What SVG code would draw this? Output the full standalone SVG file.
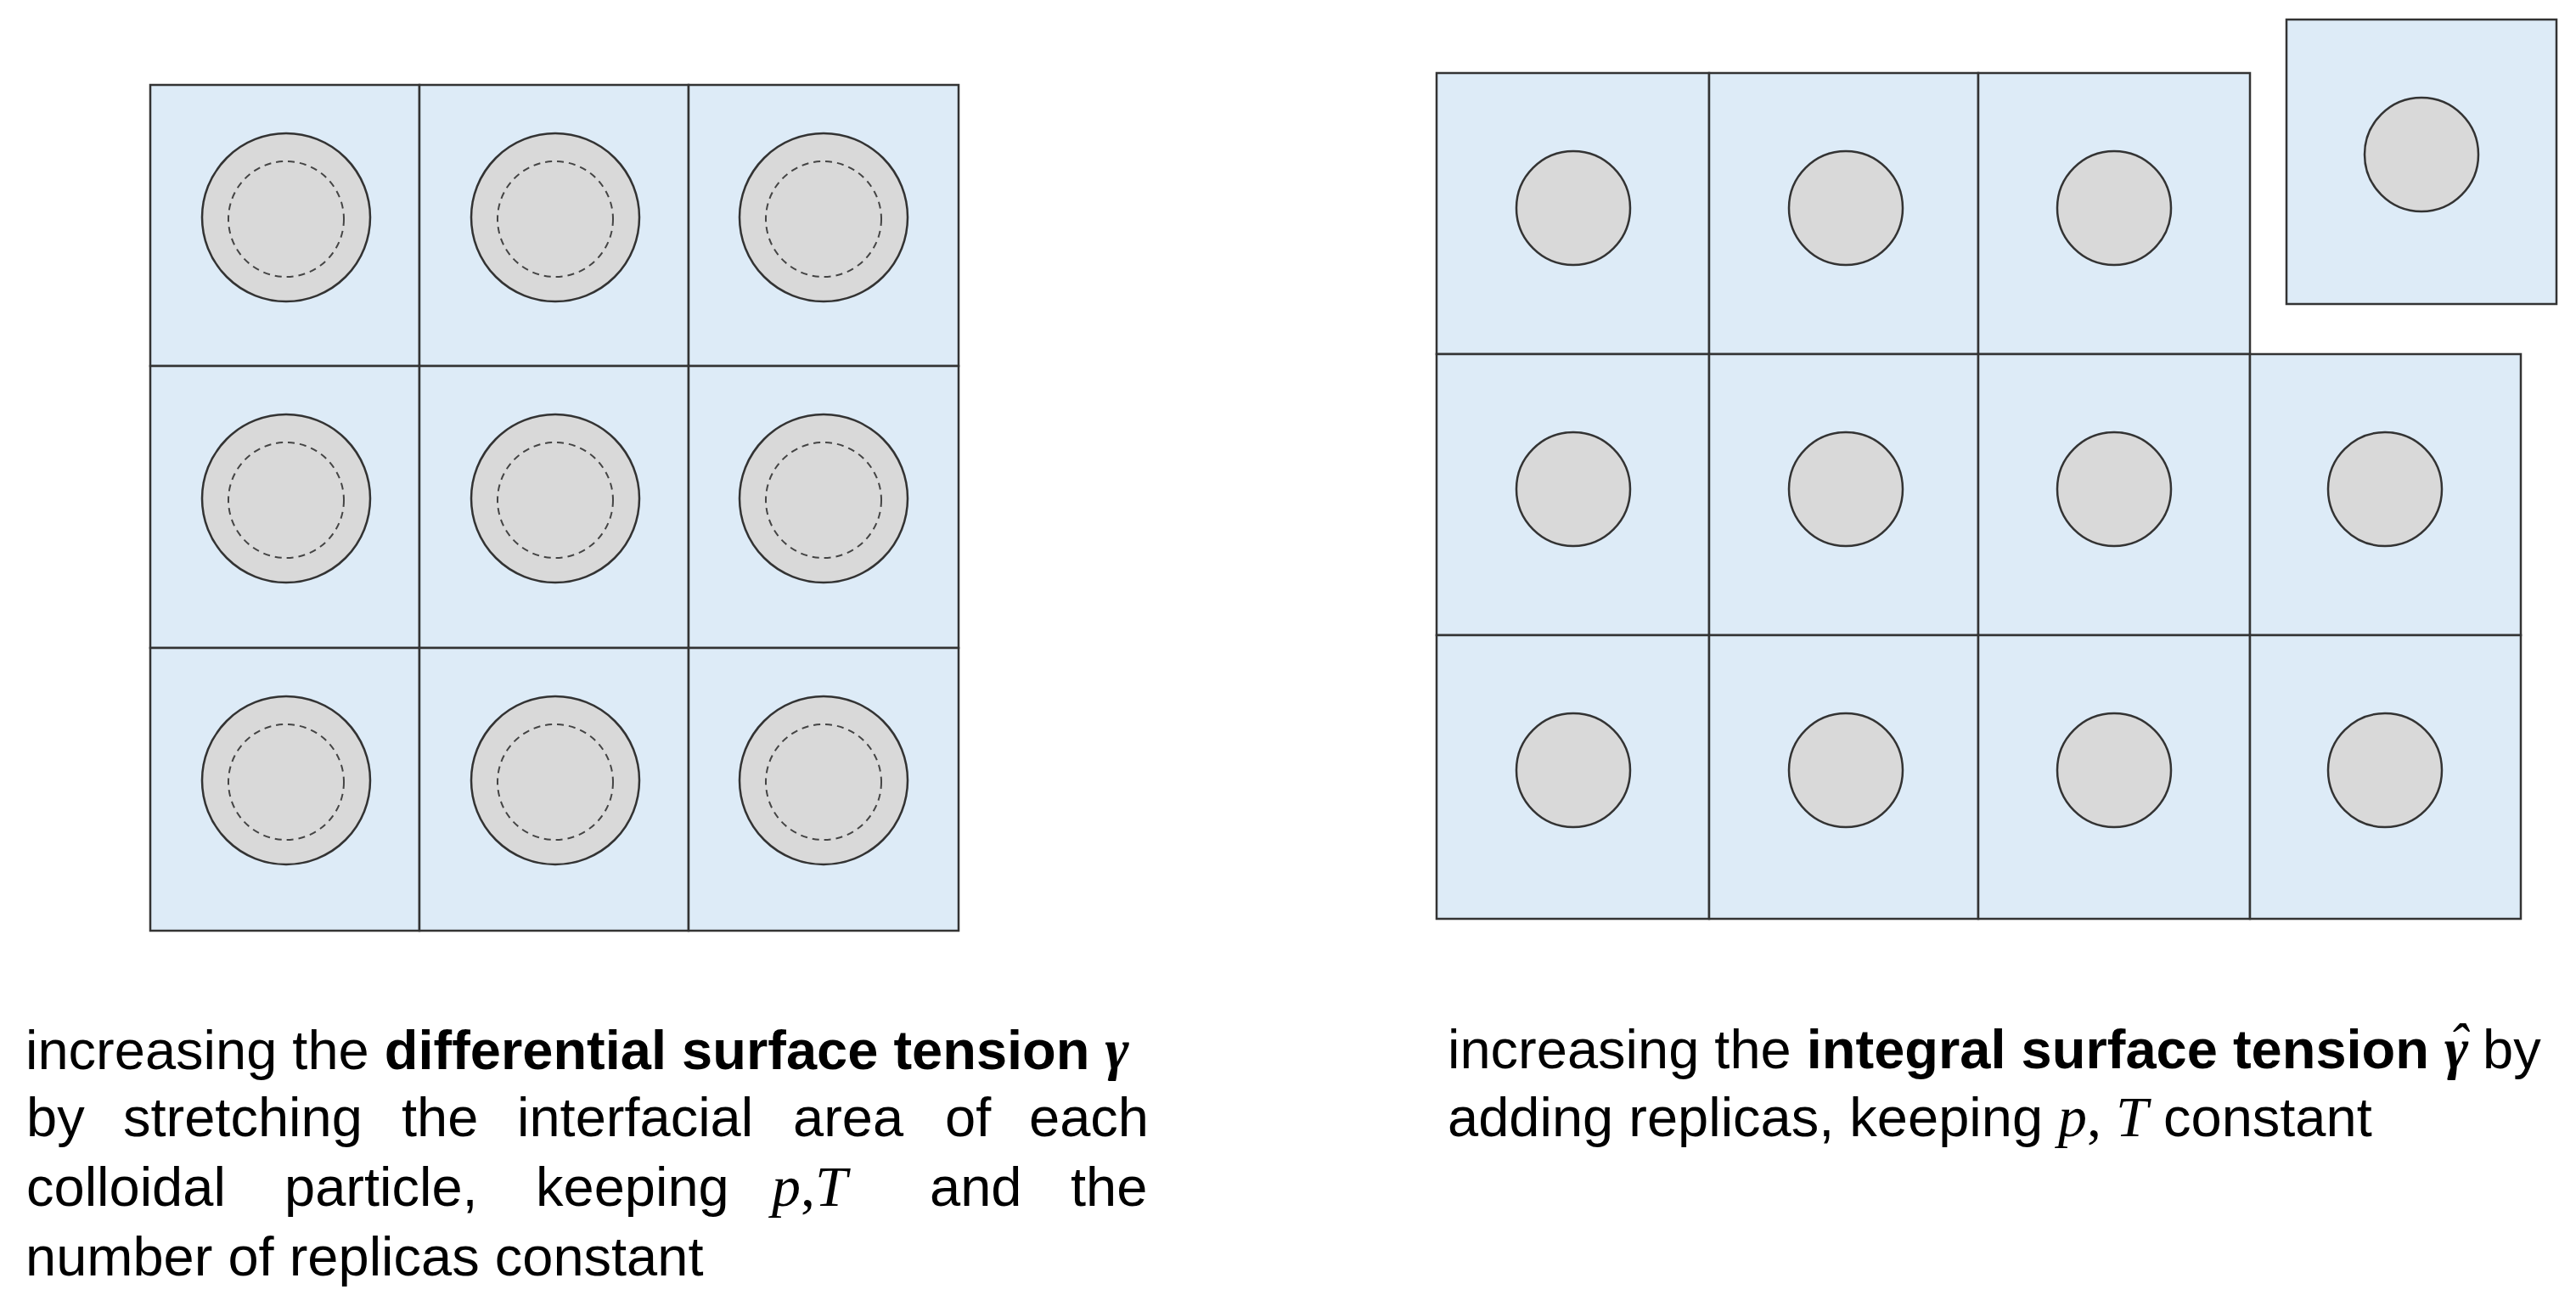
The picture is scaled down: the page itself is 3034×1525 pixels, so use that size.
<svg xmlns="http://www.w3.org/2000/svg" width="3034" height="1525" viewBox="0 0 3034 1525">
<style>
.cell{fill:#DDEBF7;stroke:#333333;stroke-width:2.5}
.p{fill:#D9D9D9;stroke:#333333;stroke-width:2.5}
.d{fill:none;stroke:#444444;stroke-width:2;stroke-dasharray:8 6}
.t{font-family:"Liberation Sans",Arial,sans-serif;font-size:65px;fill:#000}
.b{font-weight:bold}
.m{font-family:"Liberation Serif","Times New Roman",serif;font-style:italic;font-size:68px}
</style>
<rect width="3034" height="1525" fill="#ffffff"/>
<g id="left-grid">
<g id="L11"><rect class="cell" x="177" y="100" width="317" height="331"/><circle class="p" cx="337" cy="256" r="99"/><circle class="d" cx="337" cy="258" r="68"/></g>
<g id="L12"><rect class="cell" x="494" y="100" width="317" height="331"/><circle class="p" cx="654" cy="256" r="99"/><circle class="d" cx="654" cy="258" r="68"/></g>
<g id="L13"><rect class="cell" x="811" y="100" width="318" height="331"/><circle class="p" cx="970" cy="256" r="99"/><circle class="d" cx="970" cy="258" r="68"/></g>
<g id="L21"><rect class="cell" x="177" y="431" width="317" height="332"/><circle class="p" cx="337" cy="587" r="99"/><circle class="d" cx="337" cy="589" r="68"/></g>
<g id="L22"><rect class="cell" x="494" y="431" width="317" height="332"/><circle class="p" cx="654" cy="587" r="99"/><circle class="d" cx="654" cy="589" r="68"/></g>
<g id="L23"><rect class="cell" x="811" y="431" width="318" height="332"/><circle class="p" cx="970" cy="587" r="99"/><circle class="d" cx="970" cy="589" r="68"/></g>
<g id="L31"><rect class="cell" x="177" y="763" width="317" height="333"/><circle class="p" cx="337" cy="919" r="99"/><circle class="d" cx="337" cy="921" r="68"/></g>
<g id="L32"><rect class="cell" x="494" y="763" width="317" height="333"/><circle class="p" cx="654" cy="919" r="99"/><circle class="d" cx="654" cy="921" r="68"/></g>
<g id="L33"><rect class="cell" x="811" y="763" width="318" height="333"/><circle class="p" cx="970" cy="919" r="99"/><circle class="d" cx="970" cy="921" r="68"/></g>
</g>
<g id="right-grid">
<g id="R11"><rect class="cell" x="1692" y="86" width="321" height="331"/><circle class="p" cx="1853" cy="245" r="67"/></g>
<g id="R12"><rect class="cell" x="2013" y="86" width="317" height="331"/><circle class="p" cx="2174" cy="245" r="67"/></g>
<g id="R13"><rect class="cell" x="2330" y="86" width="320" height="331"/><circle class="p" cx="2490" cy="245" r="67"/></g>
<g id="R14"><rect class="cell" x="2693" y="23" width="318" height="335"/><circle class="p" cx="2852" cy="182" r="67"/></g>
<g id="R21"><rect class="cell" x="1692" y="417" width="321" height="331"/><circle class="p" cx="1853" cy="576" r="67"/></g>
<g id="R22"><rect class="cell" x="2013" y="417" width="317" height="331"/><circle class="p" cx="2174" cy="576" r="67"/></g>
<g id="R23"><rect class="cell" x="2330" y="417" width="320" height="331"/><circle class="p" cx="2490" cy="576" r="67"/></g>
<g id="R24"><rect class="cell" x="2650" y="417" width="319" height="331"/><circle class="p" cx="2809" cy="576" r="67"/></g>
<g id="R31"><rect class="cell" x="1692" y="748" width="321" height="334"/><circle class="p" cx="1853" cy="907" r="67"/></g>
<g id="R32"><rect class="cell" x="2013" y="748" width="317" height="334"/><circle class="p" cx="2174" cy="907" r="67"/></g>
<g id="R33"><rect class="cell" x="2330" y="748" width="320" height="334"/><circle class="p" cx="2490" cy="907" r="67"/></g>
<g id="R34"><rect class="cell" x="2650" y="748" width="319" height="334"/><circle class="p" cx="2809" cy="907" r="67"/></g>
</g>
<g id="connectors"></g>
<g id="left-caption" class="t">
<text class="t" x="30" y="1259">increasing the <tspan class="b">differential surface tension </tspan><tspan class="m" font-weight="bold">γ</tspan></text>
<text class="t" y="1338"><tspan x="31">by</tspan><tspan x="145">stretching</tspan><tspan x="473">the</tspan><tspan x="609">interfacial</tspan><tspan x="934">area</tspan><tspan x="1113">of</tspan><tspan x="1212">each</tspan></text>
<text class="t" y="1420"><tspan x="31">colloidal</tspan><tspan x="335">particle,</tspan><tspan x="631">keeping</tspan><tspan x="909" class="m">p</tspan><tspan font-family="Liberation Serif,serif" font-size="68">,</tspan><tspan class="m">T</tspan><tspan x="1095">and</tspan><tspan x="1261">the</tspan></text>
<text class="t" x="30" y="1502">number of replicas constant</text>
</g>
<g id="right-caption">
<text class="t" x="1705" y="1258">increasing the <tspan class="b">integral surface tension </tspan><tspan class="m" font-weight="bold">γ</tspan><tspan class="m" font-style="normal" dx="-24" dy="-6">ˆ</tspan><tspan dy="6"> by</tspan></text>
<text class="t" x="1705" y="1338">adding replicas, keeping <tspan class="m">p</tspan><tspan font-family="Liberation Serif,serif" font-size="68">, </tspan><tspan class="m">T</tspan> constant</text>
</g>
</svg>
